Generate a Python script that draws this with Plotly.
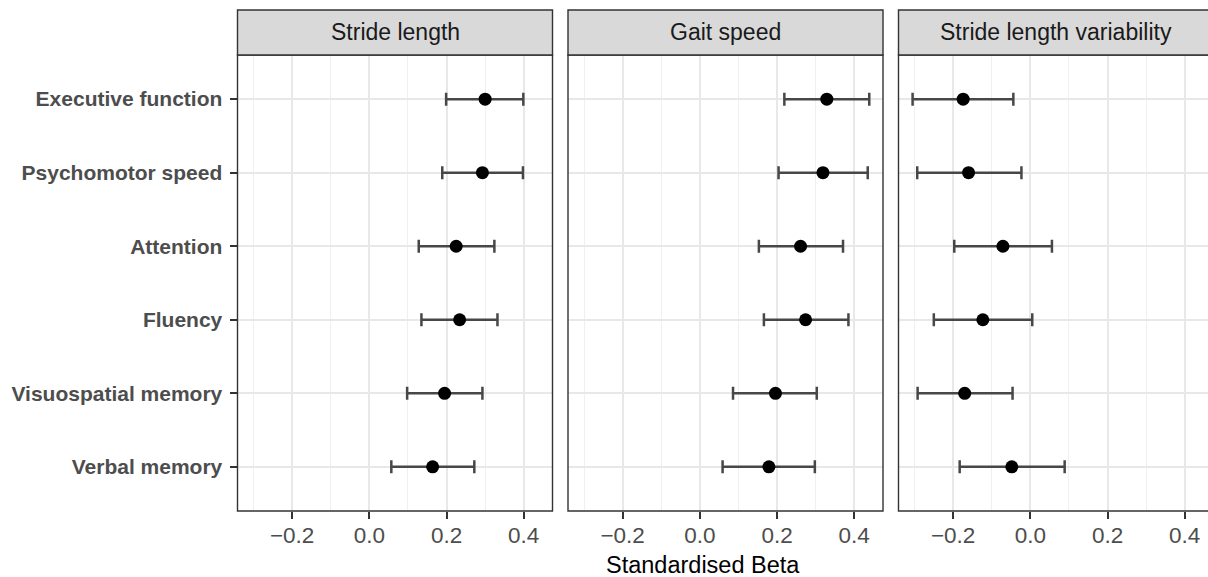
import plotly.graph_objects as go

# ---------------- data ----------------
categories = ["Executive function", "Psychomotor speed", "Attention",
              "Fluency", "Visuospatial memory", "Verbal memory"]
panels = ["Stride length", "Gait speed", "Stride length variability"]

stride_est = [0.300, 0.293, 0.225, 0.234, 0.195, 0.164]
stride_lo = [0.199, 0.189, 0.128, 0.135, 0.098, 0.057]
stride_hi = [0.399, 0.398, 0.324, 0.332, 0.293, 0.272]

speed_est = [0.329, 0.319, 0.261, 0.274, 0.196, 0.179]
speed_lo = [0.219, 0.204, 0.153, 0.166, 0.086, 0.059]
speed_hi = [0.439, 0.435, 0.371, 0.385, 0.303, 0.298]

var_est = [-0.174, -0.160, -0.071, -0.123, -0.170, -0.048]
var_lo = [-0.305, -0.293, -0.197, -0.250, -0.292, -0.183]
var_hi = [-0.044, -0.023, 0.056, 0.005, -0.046, 0.089]

x_tickvals = [-0.2, 0.0, 0.2, 0.4]
x_ticktext = ["\u22120.2", "0.0", "0.2", "0.4"]
x_minor = [-0.3, -0.1, 0.1, 0.3]
x_title = "Standardised Beta"

series = [(stride_est, stride_lo, stride_hi),
          (speed_est, speed_lo, speed_hi),
          (var_est, var_lo, var_hi)]

# ---------------- layout geometry (pixels) ----------------
W, H = 1208, 577
panel_left = [237.5, 568.0, 898.5]
panel_w = 315.0
panel_top, panel_bot = 55.0, 511.0
strip_top = 10.0
px_per_unit = 386.0
x_min = -0.3415

FONT = "Liberation Sans, Arial, Helvetica, sans-serif"
BORDER = "#333333"

def px2x(p):
    return p / W

def px2y(p):
    return 1 - p / H

fig = go.Figure()

for i, (est, lo, hi) in enumerate(series):
    plus = [h - e for h, e in zip(hi, est)]
    minus = [e - l for e, l in zip(est, lo)]
    suffix = "" if i == 0 else str(i + 1)
    fig.add_trace(go.Scatter(
        x=est, y=categories, mode="markers",
        marker=dict(color="black", size=13),
        error_x=dict(type="data", symmetric=False, array=plus, arrayminus=minus,
                     color="#474747", thickness=2.5, width=6.5),
        xaxis="x" + suffix, yaxis="y" + suffix, showlegend=False,
        cliponaxis=False,
    ))

layout = dict(
    width=W, height=H,
    margin=dict(l=0, r=0, t=0, b=0),
    paper_bgcolor="white", plot_bgcolor="white",
    font=dict(family=FONT),
    showlegend=False,
)

for i in range(3):
    suffix = "" if i == 0 else str(i + 1)
    left = panel_left[i]
    right = min(left + panel_w, W)
    x_max = x_min + (right - left) / px_per_unit
    layout["xaxis" + suffix] = dict(
        domain=[px2x(left), px2x(right)],
        range=[x_min, x_max],
        anchor="y" + suffix,
        tickvals=x_tickvals,
        ticktext=x_ticktext,
        showgrid=True, gridcolor="#E8E8E8", gridwidth=1.8,
        minor=dict(tickvals=x_minor, showgrid=True,
                   gridcolor="#F0F0F0", gridwidth=1.1, ticks=""),
        zeroline=False, showline=False,
        ticks="outside", ticklen=7, tickwidth=1.6, tickcolor=BORDER,
        tickfont=dict(family=FONT, size=22.5, color="#4D4D4D"),
        ticklabelstandoff=-3,
        fixedrange=True,
    )
    layout["yaxis" + suffix] = dict(
        domain=[px2y(panel_bot), px2y(panel_top)],
        type="category",
        categoryorder="array", categoryarray=categories,
        range=[5.6, -0.6],
        anchor="x" + suffix,
        showgrid=True, gridcolor="#E8E8E8", gridwidth=1.8,
        zeroline=False, showline=False,
        showticklabels=(i == 0),
        ticks="outside" if i == 0 else "",
        ticklen=7, tickwidth=1.6, tickcolor=BORDER,
        tickfont=dict(family=FONT, size=21, color="#4D4D4D", weight="bold"),
        ticklabelstandoff=3,
        fixedrange=True,
    )

shapes = []
annotations = []
for i in range(3):
    left = panel_left[i]
    right = left + panel_w
    shapes.append(dict(type="rect", xref="paper", yref="paper",
                       x0=px2x(left), x1=px2x(right),
                       y0=px2y(panel_bot), y1=px2y(panel_top),
                       line=dict(color=BORDER, width=1.4), fillcolor="rgba(0,0,0,0)",
                       layer="above"))
    shapes.append(dict(type="rect", xref="paper", yref="paper",
                       x0=px2x(left), x1=px2x(right),
                       y0=px2y(panel_top), y1=px2y(strip_top),
                       line=dict(color=BORDER, width=1.4), fillcolor="#D9D9D9",
                       layer="above"))
    annotations.append(dict(text=panels[i], xref="paper", yref="paper",
                            x=px2x(left + panel_w / 2), y=px2y((strip_top + panel_top) / 2),
                            xanchor="center", yanchor="middle", showarrow=False,
                            font=dict(family=FONT, size=23, color="#1A1A1A")))

annotations.append(dict(text=x_title, xref="paper", yref="paper",
                        x=px2x(703), y=px2y(565), xanchor="center", yanchor="middle",
                        showarrow=False, font=dict(family=FONT, size=23.5, color="black")))

layout["shapes"] = shapes
layout["annotations"] = annotations
fig.update_layout(**layout)

fig.write_html(
    "out.html",
    config={"displayModeBar": False},
    post_script="document.body.style.margin='0';document.body.style.overflow='hidden';",
)
